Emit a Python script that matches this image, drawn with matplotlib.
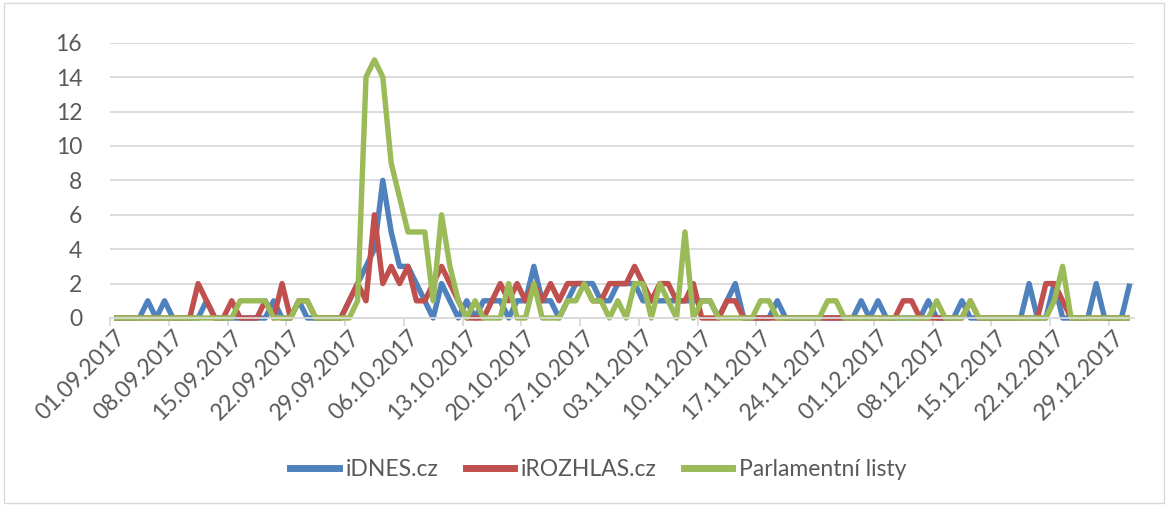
import matplotlib
matplotlib.use("Agg")
import matplotlib.pyplot as plt
from matplotlib.lines import Line2D
from matplotlib.patches import Rectangle
import numpy as np
import datetime

# ---- data ----
start_date = datetime.date(2017, 9, 1)
n_days = 122
dates = [start_date + datetime.timedelta(days=i) for i in range(n_days)]
date_labels = [d.strftime("%d.%m.%Y") for d in dates]

series_names = ["iDNES.cz", "iROZHLAS.cz", "Parlamentní listy"]

idnes = [0, 0, 0, 0, 1, 0, 1, 0, 0, 0,
         0, 1, 0, 0, 0, 0, 0, 0, 0, 1,
         0, 0, 1, 0, 0, 0, 0, 0, 1, 2,
         3, 4, 8, 5, 3, 3, 2, 1, 0, 2,
         1, 0, 1, 0, 1, 1, 1, 0, 1, 1,
         3, 1, 1, 0, 1, 2, 2, 2, 1, 1,
         2, 2, 2, 1, 1, 1, 1, 1, 1, 1,
         1, 1, 0, 1, 2, 0, 0, 0, 0, 1,
         0, 0, 0, 0, 0, 0, 0, 0, 0, 1,
         0, 1, 0, 0, 0, 0, 0, 1, 0, 0,
         0, 1, 0, 0, 0, 0, 0, 0, 0, 2,
         0, 0, 2, 0, 0, 0, 0, 2, 0, 0,
         0, 2]

irozhlas = [0, 0, 0, 0, 0, 0, 0, 0, 0, 0,
            2, 1, 0, 0, 1, 0, 0, 0, 1, 0,
            2, 0, 1, 1, 0, 0, 0, 0, 1, 2,
            1, 6, 2, 3, 2, 3, 1, 1, 2, 3,
            2, 1, 0, 0, 0, 1, 2, 1, 2, 1,
            2, 1, 2, 1, 2, 2, 2, 1, 1, 2,
            2, 2, 3, 2, 1, 2, 2, 1, 1, 2,
            0, 0, 0, 1, 1, 0, 0, 0, 0, 0,
            0, 0, 0, 0, 0, 0, 0, 0, 0, 0,
            0, 0, 0, 0, 1, 1, 0, 0, 0, 0,
            0, 0, 1, 0, 0, 0, 0, 0, 0, 0,
            0, 2, 2, 1, 0, 0, 0, 0, 0, 0,
            0, 0]

parlamentni = [0, 0, 0, 0, 0, 0, 0, 0, 0, 0,
               0, 0, 0, 0, 0, 1, 1, 1, 1, 0,
               0, 0, 1, 1, 0, 0, 0, 0, 0, 1,
               14, 15, 14, 9, 7, 5, 5, 5, 1, 6,
               3, 1, 0, 1, 0, 0, 0, 2, 0, 0,
               2, 0, 0, 0, 1, 1, 2, 1, 1, 0,
               1, 0, 2, 2, 0, 2, 1, 0, 5, 0,
               1, 1, 0, 0, 0, 0, 0, 1, 1, 0,
               0, 0, 0, 0, 0, 1, 1, 0, 0, 0,
               0, 0, 0, 0, 0, 0, 0, 0, 1, 0,
               0, 0, 1, 0, 0, 0, 0, 0, 0, 0,
               0, 0, 1, 3, 0, 0, 0, 0, 0, 0,
               0, 0]

y_ticks = [0, 2, 4, 6, 8, 10, 12, 14, 16]
label_step = 7

colors = ["#4F81BD", "#C0504D", "#9BBB59"]
text_color = "#595959"
grid_color = "#D9D9D9"

plt.rcParams["font.family"] = ["Lato", "DejaVu Sans"]
fs = 16.5

W, H = 1169, 505
fig = plt.figure(figsize=(W / 100, H / 100), dpi=100)
fig.patch.set_facecolor("white")

# chart border
fig.add_artist(Rectangle((4 / W, 2 / H), (W - 9) / W, (H - 5) / H,
                         transform=fig.transFigure, fill=False,
                         edgecolor=grid_color, lw=1))

left, right = 110 / W, 1134 / W
bottom, top = 1 - 318 / H, 1 - 42.7 / H
ax = fig.add_axes([left, bottom, right - left, top - bottom])

x = np.arange(n_days)
for vals, c, name in zip([idnes, irozhlas, parlamentni], colors, series_names):
    ax.plot(x, vals, color=c, lw=3.9, solid_joinstyle="round",
            solid_capstyle="butt", label=name, clip_on=False)

ax.set_xlim(-0.5, n_days - 0.5)
ax.set_ylim(0, 16)
ax.set_yticks(y_ticks)
ax.set_yticklabels([str(v) for v in y_ticks], fontsize=fs, color=text_color)
ax.tick_params(axis="y", length=0, pad=20)
ax.grid(axis="y", color=grid_color, lw=1.3)
ax.set_axisbelow(True)

for s in ["left", "right", "top"]:
    ax.spines[s].set_visible(False)
ax.spines["bottom"].set_color(grid_color)
ax.spines["bottom"].set_linewidth(1.3)

ax.set_xticks(x[::label_step])
ax.set_xticklabels(date_labels[::label_step], rotation=45, ha="right",
                   va="top", rotation_mode="anchor", fontsize=fs,
                   color=text_color)
ax.tick_params(axis="x", which="major", length=0, pad=6)
ax.set_xticks(np.arange(-0.5, n_days, label_step), minor=True)
ax.tick_params(axis="x", which="minor", length=6, color=grid_color, width=1.3)

handles = [Line2D([], [], color=c, lw=5) for c in colors]
fig.legend(handles, series_names, loc="center",
           bbox_to_anchor=(0.512, 1 - 470 / H), ncol=3, frameon=False,
           fontsize=fs, handlelength=2.1, handletextpad=0.3,
           columnspacing=1.2, labelcolor=text_color)

fig.savefig("out.png", dpi=100, facecolor="white")
